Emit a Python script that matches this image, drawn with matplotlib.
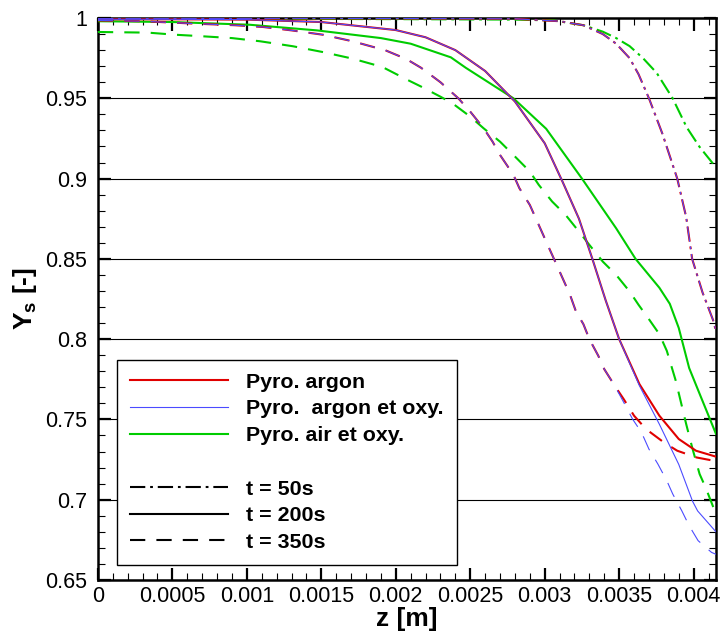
import matplotlib
matplotlib.use("Agg")
import matplotlib.pyplot as plt
from matplotlib.ticker import MultipleLocator, FuncFormatter
from matplotlib.lines import Line2D

plt.rcParams['font.family'] = ['Liberation Sans', 'DejaVu Sans']
plt.rcParams['mathtext.fontset'] = 'custom'
plt.rcParams['mathtext.bf'] = 'Liberation Sans:bold'
plt.rcParams['mathtext.rm'] = 'Liberation Sans'
plt.rcParams['lines.scale_dashes'] = False

# t = 50s
x_ar_50 = [0, 0.001, 0.002, 0.0028, 0.0031, 0.00326, 0.00339, 0.00348, 0.00357, 0.00363,
           0.0037, 0.00379, 0.00389, 0.00395, 0.00399, 0.00406, 0.00413, 0.00415]
y_ar_50 = [0.9998, 0.9998, 0.9997, 0.9995, 0.998, 0.9955, 0.990, 0.984, 0.975, 0.965,
           0.95, 0.928, 0.90, 0.876, 0.85, 0.829, 0.812, 0.805]
x_ox_50 = x_ar_50
y_ox_50 = y_ar_50
x_air_50 = [0, 0.001, 0.002, 0.0028, 0.00306, 0.00326, 0.00339, 0.00348, 0.00357, 0.00366,
            0.003752, 0.003859, 0.003953, 0.00404, 0.00415]
y_air_50 = [0.9995, 0.9995, 0.9993, 0.999, 0.9985, 0.9955, 0.9915, 0.9875, 0.9825, 0.975,
            0.9658, 0.95, 0.932, 0.9197, 0.907]

# t = 200s
x_ar_200 = [0, 0.0005, 0.001, 0.0015, 0.002, 0.0022, 0.0024, 0.0026, 0.0028, 0.003,
            0.00312, 0.00323, 0.00332, 0.00341, 0.0035, 0.003636, 0.00377,
            0.0039, 0.004016, 0.00415]
y_ar_200 = [0.9992, 0.9992, 0.999, 0.9975, 0.9925, 0.988, 0.980, 0.967, 0.948, 0.922,
            0.898, 0.875, 0.85, 0.824, 0.80, 0.772, 0.7523,
            0.7378, 0.7305, 0.7268]
x_ox_200 = [0, 0.0005, 0.001, 0.0015, 0.002, 0.0022, 0.0024, 0.0026, 0.0028, 0.003,
            0.00312, 0.00323, 0.00332, 0.00341, 0.0035, 0.003636, 0.00377,
            0.0039, 0.003993, 0.004027, 0.00415]
y_ox_200 = [0.9992, 0.9992, 0.999, 0.9975, 0.9925, 0.988, 0.980, 0.967, 0.948, 0.922,
            0.898, 0.875, 0.85, 0.824, 0.80, 0.771, 0.747,
            0.722, 0.699, 0.693, 0.68]
x_air_200 = [0, 0.0005, 0.00102, 0.00147, 0.0019, 0.0021, 0.00237, 0.00247, 0.00279,
             0.00301, 0.00325, 0.00348, 0.00361, 0.00377, 0.00384, 0.0039, 0.00397,
             0.00404, 0.00415]
y_air_200 = [0.998, 0.9975, 0.9958, 0.9923, 0.9875, 0.984, 0.9755, 0.969, 0.95,
             0.931, 0.900, 0.869, 0.850, 0.832, 0.822, 0.807, 0.782,
             0.766, 0.741]

# t = 350s
x_ar_350 = [0, 0.0003, 0.00065, 0.00092, 0.00111, 0.0013, 0.00151, 0.00171, 0.00193,
            0.00207, 0.00217, 0.0023, 0.00242, 0.0025, 0.00259, 0.00265, 0.0027,
            0.00279, 0.00283, 0.0029, 0.00294, 0.00299, 0.00303, 0.00308, 0.00312,
            0.00317, 0.00321, 0.00326, 0.0033, 0.00336, 0.0034, 0.00347, 0.00353,
            0.0036, 0.00368, 0.0038, 0.00389, 0.00402, 0.00415]
y_ar_350 = [0.9985, 0.998, 0.9965, 0.9955, 0.9944, 0.9923, 0.9896, 0.9855, 0.9799,
            0.9745, 0.969, 0.960, 0.95, 0.9417, 0.9313, 0.923, 0.9147,
            0.9023, 0.894, 0.8836, 0.8753, 0.8649, 0.8566, 0.8463, 0.838,
            0.8276, 0.8172, 0.8093, 0.80, 0.7896, 0.7813, 0.771, 0.7627,
            0.7523, 0.744, 0.7357, 0.7305, 0.7263, 0.724]
x_ox_350 = x_ar_350[:32] + [0.003525, 0.00359, 0.00365, 0.0037, 0.00376, 0.00382,
                            0.00386, 0.00392, 0.00397, 0.00403, 0.00412, 0.00415]
y_ox_350 = y_ar_350[:32] + [0.7616, 0.7502, 0.7419, 0.7315, 0.7222, 0.7118,
                            0.7035, 0.6932, 0.6838, 0.6745, 0.6672, 0.666]
x_air_350 = [0, 0.000336, 0.000517, 0.00067, 0.0009, 0.00109, 0.00131, 0.00151, 0.00171,
             0.00191, 0.00208, 0.00217, 0.0023, 0.00238, 0.0025, 0.00259, 0.0027,
             0.00279, 0.0029, 0.00296, 0.00305, 0.00314, 0.00323, 0.0033, 0.00339,
             0.00348, 0.00357, 0.00363, 0.0037, 0.00377, 0.00382, 0.00388, 0.00395,
             0.00399, 0.00404, 0.00408, 0.00415]
y_air_350 = [0.9913, 0.9909, 0.9896, 0.9888, 0.9875, 0.9855, 0.9824, 0.9788, 0.9747,
             0.9695, 0.9614, 0.9573, 0.951, 0.9469, 0.9386, 0.9313, 0.923,
             0.9147, 0.9044, 0.8961, 0.8857, 0.8774, 0.867, 0.8587, 0.8483,
             0.84, 0.8297, 0.8214, 0.8124, 0.8031, 0.7927, 0.7741, 0.7471,
             0.7326, 0.716, 0.7077, 0.6911]

red = '#e00000'
blue = '#4b4bff'
green = '#00cc00'
lw_thick = 1.5
lw_thin = 0.8
dashdot = (0, (11, 3.5, 2, 3.5))
dashed = (0, (11, 8))

fig = plt.figure(figsize=(7.2, 6.32), dpi=100)
ax = fig.add_axes([0.136, 0.0823, 0.8584, 0.8892])

for t in range(3):
    ls = [dashdot, '-', dashed][t]
    xs = [(x_ar_50, x_ox_50, x_air_50), (x_ar_200, x_ox_200, x_air_200), (x_ar_350, x_ox_350, x_air_350)][t]
    ys = [(y_ar_50, y_ox_50, y_air_50), (y_ar_200, y_ox_200, y_air_200), (y_ar_350, y_ox_350, y_air_350)][t]
    ax.plot(xs[2], ys[2], color=green, lw=lw_thick, linestyle=ls, zorder=3)
    ax.plot(xs[0], ys[0], color=red, lw=lw_thick, linestyle=ls, zorder=4)
    ax.plot(xs[1], ys[1], color=blue, lw=lw_thin, linestyle=ls, zorder=5)

ax.set_xlim(0, 0.00415)
ax.set_ylim(0.65, 1.0)
ax.xaxis.set_major_locator(MultipleLocator(0.0005))
ax.xaxis.set_minor_locator(MultipleLocator(0.0001))
ax.yaxis.set_major_locator(MultipleLocator(0.05))
ax.yaxis.set_minor_locator(MultipleLocator(0.01))
fmt = FuncFormatter(lambda v, p: '%g' % round(v, 6))
ax.xaxis.set_major_formatter(fmt)
ax.yaxis.set_major_formatter(fmt)
ax.tick_params(which='both', direction='in', top=True, right=True, labelsize=15.5)
ax.tick_params(which='major', length=9, width=1.6)
ax.tick_params(axis='y', which='major', pad=8)
ax.tick_params(axis='x', which='major', pad=4)
ax.tick_params(which='minor', length=5, width=0.8)
for s in ax.spines.values():
    s.set_linewidth(1.8)
ax.yaxis.grid(True, which='major', color='black', lw=0.8)
ax.set_axisbelow(True)

ax.set_xlabel('z [m]', fontsize=19, fontweight='bold', labelpad=0)
ax.set_ylabel(r'$\mathbf{Y_s}$ [-]', fontsize=19, fontweight='bold', labelpad=4)

handles = [Line2D([], [], color=red, lw=lw_thick),
           Line2D([], [], color=blue, lw=lw_thin),
           Line2D([], [], color=green, lw=lw_thick),
           Line2D([], [], color='none'),
           Line2D([], [], color='black', lw=lw_thick, linestyle=dashdot),
           Line2D([], [], color='black', lw=lw_thick, linestyle='-'),
           Line2D([], [], color='black', lw=lw_thick, linestyle=dashed)]
labels = ['Pyro. argon', 'Pyro.  argon et oxy.', 'Pyro. air et oxy.', '',
          't = 50s', 't = 200s', 't = 350s']
leg = ax.legend(handles, labels, loc='lower left', bbox_to_anchor=(0.031, 0.027),
                borderaxespad=0, fancybox=False, framealpha=1, edgecolor='black',
                prop={'weight': 'bold', 'size': 15.4}, handlelength=4.6,
                handletextpad=0.85, labelspacing=0.36, borderpad=0.6)
leg.get_frame().set_linewidth(1.0)
leg.set_zorder(10)

fig.savefig('out.png', dpi=100)
